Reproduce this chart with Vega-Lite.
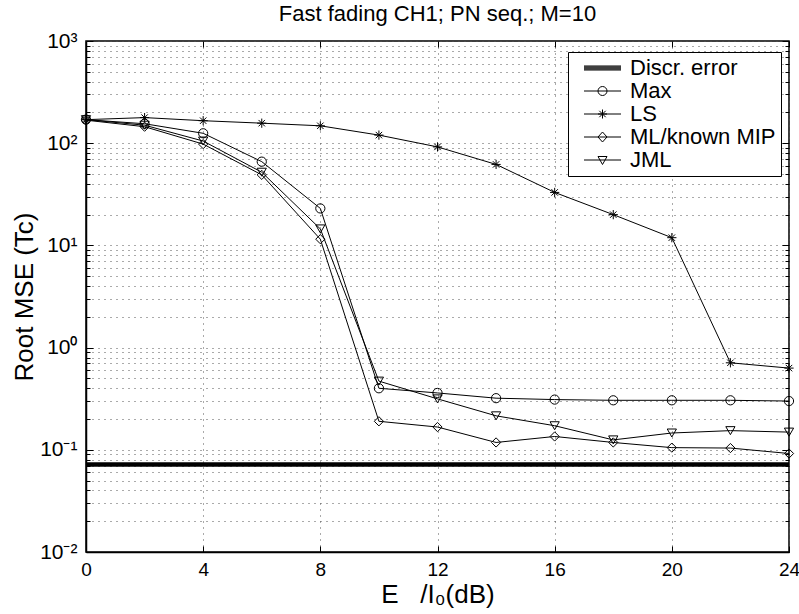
{
  "$schema": "https://vega.github.io/schema/vega-lite/v6.json",
  "width": 703,
  "height": 511,
  "autosize": "none",
  "padding": {"left": 86, "top": 41, "right": 10, "bottom": 62},
  "background": "white",
  "config": {
    "font": "Liberation Sans",
    "view": {"stroke": "black", "strokeWidth": 1.5}
  },
  "title": {"text": "Fast fading CH1; PN seq.; M=10", "fontSize": 22, "fontWeight": "normal", "font": "Liberation Sans", "color": "black", "offset": 4, "anchor": "middle"},
  "data": {"values": [
    {"series": "Discr. error", "x": 0, "y": 0.072},
    {"series": "Discr. error", "x": 24, "y": 0.072},
    {"series": "Max", "x": 0, "y": 170},
    {"series": "Max", "x": 2, "y": 155},
    {"series": "Max", "x": 4, "y": 125},
    {"series": "Max", "x": 6, "y": 66},
    {"series": "Max", "x": 8, "y": 23},
    {"series": "Max", "x": 10, "y": 0.40},
    {"series": "Max", "x": 12, "y": 0.36},
    {"series": "Max", "x": 14, "y": 0.32},
    {"series": "Max", "x": 16, "y": 0.31},
    {"series": "Max", "x": 18, "y": 0.305},
    {"series": "Max", "x": 20, "y": 0.305},
    {"series": "Max", "x": 22, "y": 0.305},
    {"series": "Max", "x": 24, "y": 0.30},
    {"series": "LS", "x": 0, "y": 170},
    {"series": "LS", "x": 2, "y": 178},
    {"series": "LS", "x": 4, "y": 166},
    {"series": "LS", "x": 6, "y": 157},
    {"series": "LS", "x": 8, "y": 148},
    {"series": "LS", "x": 10, "y": 120},
    {"series": "LS", "x": 12, "y": 92},
    {"series": "LS", "x": 14, "y": 62},
    {"series": "LS", "x": 16, "y": 33},
    {"series": "LS", "x": 18, "y": 20},
    {"series": "LS", "x": 20, "y": 11.9},
    {"series": "LS", "x": 22, "y": 0.71},
    {"series": "LS", "x": 24, "y": 0.63},
    {"series": "ML/known MIP", "x": 0, "y": 168},
    {"series": "ML/known MIP", "x": 2, "y": 145},
    {"series": "ML/known MIP", "x": 4, "y": 98},
    {"series": "ML/known MIP", "x": 6, "y": 49},
    {"series": "ML/known MIP", "x": 8, "y": 11.5},
    {"series": "ML/known MIP", "x": 10, "y": 0.19},
    {"series": "ML/known MIP", "x": 12, "y": 0.167},
    {"series": "ML/known MIP", "x": 14, "y": 0.118},
    {"series": "ML/known MIP", "x": 16, "y": 0.135},
    {"series": "ML/known MIP", "x": 18, "y": 0.118},
    {"series": "ML/known MIP", "x": 20, "y": 0.105},
    {"series": "ML/known MIP", "x": 22, "y": 0.104},
    {"series": "ML/known MIP", "x": 24, "y": 0.092},
    {"series": "JML", "x": 0, "y": 170},
    {"series": "JML", "x": 2, "y": 150},
    {"series": "JML", "x": 4, "y": 105},
    {"series": "JML", "x": 6, "y": 52},
    {"series": "JML", "x": 8, "y": 14.5},
    {"series": "JML", "x": 10, "y": 0.47},
    {"series": "JML", "x": 12, "y": 0.315},
    {"series": "JML", "x": 14, "y": 0.215},
    {"series": "JML", "x": 16, "y": 0.172},
    {"series": "JML", "x": 18, "y": 0.125},
    {"series": "JML", "x": 20, "y": 0.146},
    {"series": "JML", "x": 22, "y": 0.154},
    {"series": "JML", "x": 24, "y": 0.149}
  ]},
  "layer": [
    {
      "mark": {"type": "line", "color": "black", "clip": false},
      "encoding": {
        "x": {"field": "x", "type": "quantitative",
          "scale": {"domain": [0, 24], "nice": false, "zero": false},
          "axis": {"orient": "bottom", "values": [0, 4, 8, 12, 16, 20, 24], "title": "E\u00a0\u00a0\u00a0/I₀(dB)",
            "grid": true, "gridDash": [1, 5], "gridColor": "#555", "gridWidth": 1,
            "domain": true, "domainColor": "black", "domainWidth": 1.5,
            "ticks": true, "tickSize": -6, "tickColor": "black",
            "labelFontSize": 19, "labelColor": "black", "labelPadding": 14, "labelFlush": false,
            "titleFontSize": 26, "titleFontWeight": "normal", "titleColor": "black", "titlePadding": 2}},
        "y": {"field": "y", "type": "quantitative",
          "scale": {"type": "log", "domain": [0.01, 1000], "nice": false},
          "axis": {"orient": "left",
            "values": [0.01, 0.02, 0.03, 0.04, 0.05, 0.06, 0.07, 0.08, 0.09, 0.1, 0.2, 0.3, 0.4, 0.5, 0.6, 0.7, 0.8, 0.9, 1, 2, 3, 4, 5, 6, 7, 8, 9, 10, 20, 30, 40, 50, 60, 70, 80, 90, 100, 200, 300, 400, 500, 600, 700, 800, 900, 1000],
            "labelExpr": "datum.value == 1000 ? '10³' : datum.value == 100 ? '10²' : datum.value == 10 ? '10¹' : datum.value == 1 ? '10⁰' : datum.value == 0.1 ? '10⁻¹' : datum.value == 0.01 ? '10⁻²' : ''",
            "title": "Root MSE (Tc)",
            "grid": true, "gridDash": [1, 5], "gridColor": "#555", "gridWidth": 1,
            "domain": true, "domainColor": "black", "domainWidth": 1.5,
            "ticks": true, "tickColor": "black",
            "tickSize": {"condition": {"test": "datum.value == 1000 || datum.value == 100 || datum.value == 10 || datum.value == 1 || datum.value == 0.1 || datum.value == 0.01", "value": -7}, "value": -4},
            "labelFontSize": 21, "labelColor": "black", "labelPadding": 16, "labelOverlap": false, "labelFlush": false,
            "titleFontSize": 26, "titleFontWeight": "normal", "titleColor": "black", "titlePadding": 2}},
        "detail": {"field": "series", "type": "nominal"},
        "strokeWidth": {"condition": {"test": "datum.series == 'Discr. error'", "value": 4.5}, "value": 1}
      }
    },
    {
      "transform": [{"filter": "datum.series != 'Discr. error'"}],
      "mark": {"type": "point", "filled": false, "color": "black", "strokeWidth": 1, "size": 85, "opacity": 1, "clip": false},
      "encoding": {
        "x": {"field": "x", "type": "quantitative",
          "axis": {"orient": "top", "values": [0, 4, 8, 12, 16, 20, 24], "labels": false, "grid": false, "domain": false, "ticks": true, "tickSize": -6, "tickColor": "black", "title": null}},
        "y": {"field": "y", "type": "quantitative",
          "axis": {"orient": "right", "labels": false, "grid": false, "domain": false, "title": null, "ticks": true, "tickColor": "black",
            "values": [0.01, 0.02, 0.03, 0.04, 0.05, 0.06, 0.07, 0.08, 0.09, 0.1, 0.2, 0.3, 0.4, 0.5, 0.6, 0.7, 0.8, 0.9, 1, 2, 3, 4, 5, 6, 7, 8, 9, 10, 20, 30, 40, 50, 60, 70, 80, 90, 100, 200, 300, 400, 500, 600, 700, 800, 900, 1000],
            "tickSize": {"condition": {"test": "datum.value == 1000 || datum.value == 100 || datum.value == 10 || datum.value == 1 || datum.value == 0.1 || datum.value == 0.01", "value": -7}, "value": -4}}},
        "shape": {"field": "series", "type": "nominal",
          "scale": {"domain": ["Max", "LS", "ML/known MIP", "JML"],
            "range": ["circle", "M0,-1L0,1M-1,0L1,0M-0.7,-0.7L0.7,0.7M-0.7,0.7L0.7,-0.7", "diamond", "triangle-down"]},
          "legend": null}
      }
    },
    {
      "transform": [{"filter": "datum.x < 0"}],
      "mark": {"type": "point", "filled": false, "color": "black", "strokeWidth": 1},
      "encoding": {
        "x": {"field": "x", "type": "quantitative", "axis": null},
        "y": {"field": "y", "type": "quantitative", "axis": null},
        "shape": {"field": "series", "type": "nominal",
          "scale": {"domain": ["Discr. error", "Max", "LS", "ML/known MIP", "JML"],
            "range": [
              "M0,-0.4L7.4,-0.4M0,-0.2L7.4,-0.2M0,0L7.4,0M0,0.2L7.4,0.2M0,0.4L7.4,0.4",
              "M0,0L7.4,0M4.6,0A0.9,0.9 0 1,1 2.8,0A0.9,0.9 0 1,1 4.6,0",
              "M0,0L7.4,0M3.7,-0.9L3.7,0.9M2.8,0L4.6,0M3.06,-0.64L4.34,0.64M3.06,0.64L4.34,-0.64",
              "M0,0L7.4,0M3.7,-1L4.6,0L3.7,1L2.8,0Z",
              "M0,0L7.4,0M2.8,-0.7L4.6,-0.7L3.7,0.9Z"
            ]},
          "legend": {"title": null, "orient": "none", "legendX": 482, "legendY": 11,
            "strokeColor": "black", "fillColor": "white", "padding": 5,
            "labelFontSize": 22, "labelColor": "black", "labelFont": "Liberation Sans", "labelLimit": 400,
            "symbolSize": 100, "labelOffset": 35, "rowPadding": 1,
            "symbolStrokeColor": "black", "symbolStrokeWidth": 1, "symbolOpacity": 1}
        }
      }
    }
  ],
  "resolve": {"scale": {"shape": "independent"}, "axis": {"x": "independent", "y": "independent"}}
}
